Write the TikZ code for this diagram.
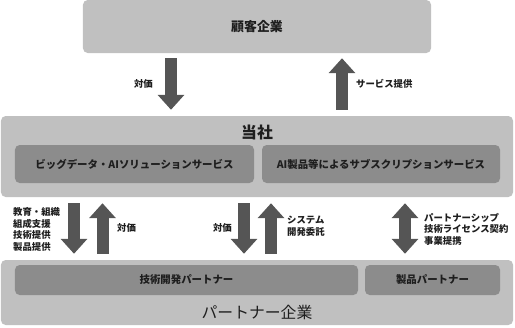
\documentclass[tikz,border=0pt]{standalone}
\usepackage{fontspec}
\setmainfont{Noto Sans CJK JP}
\usetikzlibrary{arrows.meta}
\definecolor{boxlight}{HTML}{C0C0C0}
\definecolor{boxdark}{HTML}{8C8C8C}
\definecolor{arrowgray}{HTML}{555555}
\definecolor{textgray}{HTML}{1E1E1E}
\begin{document}
\begin{tikzpicture}[x=0.03cm,y=-0.03cm,
  outerbox/.style={fill=boxlight, rounded corners=4pt, inner sep=0pt},
  innerbox/.style={fill=boxdark, rounded corners=4pt, inner sep=0pt, text=textgray, font=\fontsize{8.9}{10}\selectfont\bfseries},
  bigarrow/.style={draw=arrowgray, line width=0.36cm, -{Triangle[width=0.78cm,length=0.45cm]}},
  twoarrow/.style={draw=arrowgray, line width=0.36cm, {Triangle[width=0.78cm,length=0.45cm]}-{Triangle[width=0.78cm,length=0.45cm]}},
  lbl/.style={align=left, inner sep=0pt, text=textgray, font=\fontsize{8}{9.8}\selectfont\bfseries}]
\useasboundingbox (0,0) rectangle (515,327);
% boxes
\node[outerbox, minimum width=10.44cm, minimum height=1.59cm, text=textgray, font=\fontsize{11}{13}\selectfont\bfseries] (kokyaku) at (257,26.5) {顧客企業};
\node[outerbox, minimum width=15.36cm, minimum height=2.43cm] (tosha) at (257,156.5) {};
\node[text=textgray, font=\fontsize{13.5}{15}\selectfont\bfseries, inner sep=0pt] (toshatitle) at (257,132) {当社};
\node[innerbox, minimum width=7.17cm, minimum height=1.14cm] (bigdata) at (134.5,164) {ビッグデータ・AIソリューションサービス};
\node[innerbox, minimum width=7.14cm, minimum height=1.14cm] (subsc) at (381,164) {AI製品等によるサブスクリプションサービス};
\node[outerbox, minimum width=15.36cm, minimum height=1.95cm] (partner) at (257,292.5) {};
\node[text=textgray, font=\fontsize{13.5}{15}\selectfont, inner sep=0pt] (partnertitle) at (257,312) {パートナー企業};
\node[innerbox, minimum width=10.29cm, minimum height=0.9cm] (gijutsu) at (186.5,280) {技術開発パートナー};
\node[innerbox, minimum width=4.05cm, minimum height=0.9cm] (seihin) at (432.5,280) {製品パートナー};
% arrow positions
\coordinate (xa) at (171,0);
\coordinate (xb) at (342,0);
\coordinate (xc) at (74,0);
\coordinate (xd) at (102.5,0);
\coordinate (xe) at (244,0);
\coordinate (xf) at (271,0);
\coordinate (xg) at (405,0);
\draw[bigarrow, shorten <=0.15cm, shorten >=0.18cm] (kokyaku.south -| xa) -- (tosha.north -| xa);
\draw[bigarrow, shorten <=0.18cm, shorten >=0.15cm] (tosha.north -| xb) -- (kokyaku.south -| xb);
\draw[bigarrow, shorten <=0.18cm, shorten >=0.18cm] (tosha.south -| xc) -- (partner.north -| xc);
\draw[bigarrow, shorten <=0.18cm, shorten >=0.18cm] (partner.north -| xd) -- (tosha.south -| xd);
\draw[bigarrow, shorten <=0.18cm, shorten >=0.18cm] (tosha.south -| xe) -- (partner.north -| xe);
\draw[bigarrow, shorten <=0.18cm, shorten >=0.18cm] (partner.north -| xf) -- (tosha.south -| xf);
\draw[twoarrow, shorten <=0.18cm, shorten >=0.18cm] (tosha.south -| xg) -- (partner.north -| xg);
% labels
\node[lbl, anchor=east] (taika1) at (153,84) {対価};
\node[lbl, anchor=west] (service) at (356,84) {サービス提供};
\node[lbl, anchor=west] (kyoiku) at (13,229.5) {教育・組織\\組成支援\\技術提供\\製品提供};
\node[lbl, anchor=west] (taika2) at (117,228) {対価};
\node[lbl, anchor=east] (taika3) at (232,228) {対価};
\node[lbl, anchor=west] (system) at (287,226) {システム\\開発委託};
\node[lbl, anchor=west] (teikei) at (424,229) {パートナーシップ\\技術ライセンス契約\\事業提携};
\end{tikzpicture}
\end{document}
